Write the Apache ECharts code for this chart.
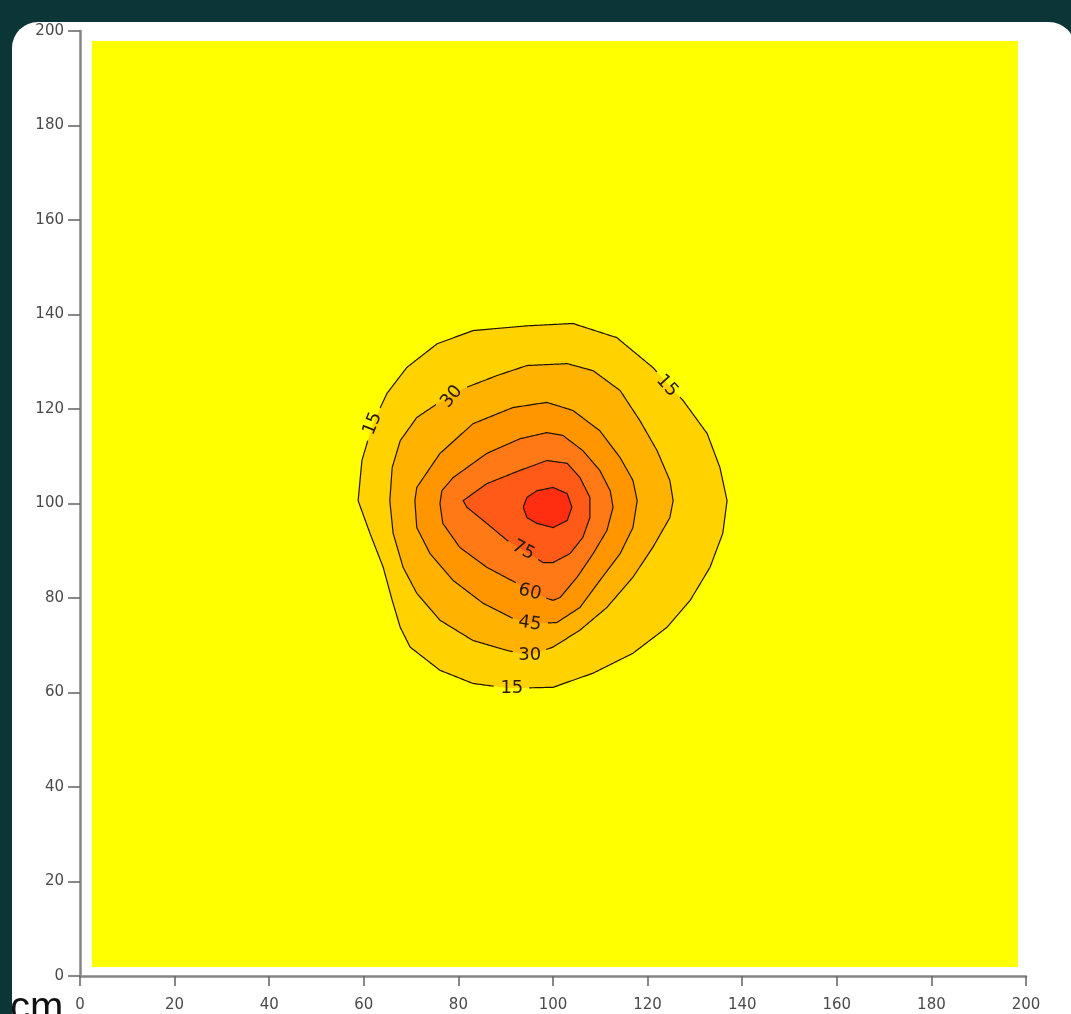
<!DOCTYPE html>
<html><head><meta charset="utf-8">
<script src="https://cdn.jsdelivr.net/npm/echarts@6/dist/echarts.min.js"></script>
<style>html,body{margin:0;padding:0;background:#0c3537;overflow:hidden}#c{width:1071px;height:1014px;}</style>
</head><body><div id="c"></div>
<script>
// ---- data ----
const axisTicks = [0,20,40,60,80,100,120,140,160,180,200];
const xExtent = [2.5, 198.3];
const yExtent = [1.9, 197.9];
const levels = [15, 30, 45, 60, 75, 90];
const bandColors = ['#ffff00', '#ffd200', '#ffb200', '#ff9600', '#ff7a16', '#ff5a18', '#ff2e10'];

const c15 = [[94.5,137.6],[104.2,138.1],[113.5,135.1],[121.1,128.8],[127.5,121.8],[132.6,114.8],[135.3,107.6],[136.8,100.6],[135.9,93.7],[133.2,86.5],[129.0,79.5],[124.1,73.8],[116.9,68.3],[108.5,64.1],[100.0,61.1],[90.9,60.9],[83.1,61.9],[76.1,64.7],[69.8,69.6],[67.7,73.8],[66.0,79.5],[64.1,86.5],[61.3,93.7],[58.8,100.6],[59.6,109.1],[61.9,116.9],[64.9,123.3],[69.1,128.8],[75.5,133.8],[83.1,136.6]];
const c30 = [[81.0,124.3],[88.2,127.1],[94.5,129.2],[103.0,129.6],[108.5,128.1],[114.2,123.9],[118.4,117.5],[122.0,111.2],[124.7,104.9],[125.4,100.6],[124.7,97.0],[121.1,90.7],[116.9,84.4],[111.4,78.0],[105.7,73.2],[100.0,69.6],[95.1,67.9],[90.3,68.9],[83.1,71.0],[76.1,75.3],[71.2,81.0],[68.3,86.5],[66.2,93.7],[65.5,100.6],[66.0,107.6],[67.7,113.3],[71.2,118.2],[75.5,121.1]];
const c45 = [[71.2,103.4],[76.1,110.6],[83.1,116.9],[91.5,120.3],[98.7,121.4],[104.2,119.7],[109.9,115.4],[114.2,109.7],[116.9,104.9],[117.8,100.6],[116.9,94.9],[114.2,89.4],[109.9,83.7],[105.7,78.0],[100.8,74.8],[95.1,74.6],[91.5,75.7],[85.2,78.9],[78.9,83.7],[74.0,89.4],[71.2,94.9],[70.8,100.6]];
const c60 = [[76.1,100.0],[76.5,102.7],[78.9,105.5],[86.0,110.6],[93.0,113.7],[98.7,115.0],[102.1,114.4],[106.3,111.2],[109.9,107.0],[112.1,102.7],[112.7,99.2],[111.4,94.3],[108.5,89.4],[105.1,84.4],[101.5,80.1],[100.0,79.5],[95.1,81.2],[92.4,83.1],[86.0,86.5],[80.3,90.7],[76.7,95.8]];
const c75 = [[81.0,100.6],[86.0,104.2],[93.0,107.0],[98.7,109.1],[103.0,108.5],[105.7,105.5],[107.8,101.3],[107.8,97.0],[106.3,92.8],[103.6,89.4],[100.0,87.5],[97.9,87.5],[93.7,90.1],[90.3,92.2],[86.0,95.8],[81.8,99.2]];
const c90 = [[93.7,99.2],[94.5,101.3],[96.6,102.7],[100.0,103.4],[103.0,102.1],[104.0,99.2],[103.0,96.4],[100.0,94.9],[96.6,95.8],[94.5,97.0]];
const contours = [c15, c30, c45, c60, c75, c90];

// contour labels: [level, x, y]
const labelPoints = [[15,61.9,116.9],[15,124.1,124.9],[15,91.3,60.8],[30,78.6,122.6],[30,95.1,67.9],[45,95.1,74.6],[60,95.1,81.2],[75,93.7,90.1]];
const labelAngles = [68, -48, 0, 50, 0, -8, -14, -28];

// ---- drawing ----
function densify(px){
  const out=[];
  for(let i=0;i<px.length;i++){
    const a=px[i], b=px[(i+1)%px.length];
    const d=Math.hypot(b[0]-a[0],b[1]-a[1]); const n=Math.max(1,Math.ceil(d/1.5));
    for(let k=0;k<n;k++) out.push([a[0]+(b[0]-a[0])*k/n, a[1]+(b[1]-a[1])*k/n]);
  }
  return out;
}
function strokeSegments(px, gaps){
  const dense=densify(px);
  const keep=dense.map(p=>gaps.every(g=>Math.hypot(p[0]-g[0],p[1]-g[1])>g[2]));
  if(keep.every(k=>k)) return [dense.concat([dense[0]])];
  const start=keep.indexOf(false);
  const segs=[]; let cur=[];
  for(let j=1;j<=dense.length;j++){
    const i=(start+j)%dense.length;
    if(keep[i]) cur.push(dense[i]);
    else { if(cur.length>1) segs.push(cur); cur=[]; }
  }
  if(cur.length>1) segs.push(cur);
  return segs;
}

function renderAll(params, api){
  const children=[];
  const p0=api.coord([xExtent[0], yExtent[1]]);
  const p1=api.coord([xExtent[1], yExtent[0]]);
  children.push({type:'rect', shape:{x:p0[0], y:p0[1], width:p1[0]-p0[0], height:p1[1]-p0[1]}, style:{fill:bandColors[0]}});
  const pxContours = contours.map(c=>c.map(p=>api.coord(p)));
  pxContours.forEach((px,i)=>{
    children.push({type:'polygon', shape:{points:px}, style:{fill:bandColors[i+1]}});
  });
  pxContours.forEach((px,i)=>{
    const lv=levels[i];
    const gaps=[];
    labelPoints.forEach(l=>{ if(l[0]===lv){ const q=api.coord([l[1],l[2]]); gaps.push([q[0],q[1],17]); } });
    strokeSegments(px,gaps).forEach(seg=>{
      children.push({type:'polyline', shape:{points:seg}, style:{stroke:'#201400', lineWidth:1.2, fill:null}});
    });
  });
  labelPoints.forEach((l,k)=>{
    const q=api.coord([l[1],l[2]]);
    children.push({type:'text', x:q[0], y:q[1], rotation:labelAngles[k]*Math.PI/180,
      style:{text:String(l[0]), fill:'#2a1a00', font:'18px "DejaVu Sans"', align:'center', verticalAlign:'middle'}});
  });
  return {type:'group', children};
}

const chart=echarts.init(document.getElementById('c'));
function axisOpt(margin, tickLen){
  return {
    type:'value', min:0, max:200, interval:20,
    axisLine:{show:true, onZero:false, lineStyle:{color:'#858585', width:2.5}},
    axisTick:{show:true, length:tickLen, lineStyle:{color:'#6a6a6a', width:1.6}},
    splitLine:{show:false},
    axisLabel:{color:'#4a4a4a', fontSize:15, fontFamily:'DejaVu Sans', margin:margin,
      formatter:v=>axisTicks.indexOf(v)>=0?String(v):''}
  };
}
chart.setOption({
  animation:false,
  backgroundColor:'#0c3537',
  graphic:[
    {type:'rect', z:-100, shape:{x:12,y:22,width:1063,height:1050,r:26}, style:{fill:'#ffffff'}},
    {type:'text', z:100, x:10, y:1029, style:{text:'cm', font:'40px "Liberation Sans"', fill:'#111111', verticalAlign:'bottom'}}
  ],
  grid:{left:80, right:45, top:31, bottom:38, containLabel:false},
  xAxis:axisOpt(22, 10),
  yAxis:axisOpt(16, 12),
  series:[{type:'custom', coordinateSystem:'cartesian2d', data:[[100,100]], renderItem:renderAll, silent:true, clip:false}]
});
</script>
</body></html>
